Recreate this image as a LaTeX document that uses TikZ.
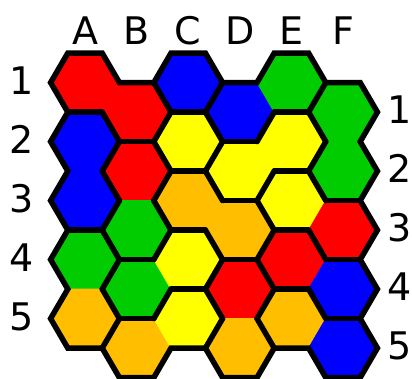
\documentclass[tikz,border=0pt]{standalone}
\usepackage{fontspec}
\setmainfont{DejaVu Sans}
\usetikzlibrary{calc}
\definecolor{hred}{RGB}{255,0,0}
\definecolor{hblue}{RGB}{0,0,255}
\definecolor{hgreen}{RGB}{0,204,0}
\definecolor{hyellow}{RGB}{255,255,0}
\definecolor{horange}{RGB}{255,191,0}
\begin{document}
\begin{tikzpicture}[x=1pt,y=-1pt,
  edge/.style={line width=5.5pt,line cap=round,draw=black},
  rim/.style={line width=5.5pt,line join=miter,draw=black},
  lab/.style={font=\fontsize{38}{40}\selectfont,inner sep=0pt,anchor=base}]
\useasboundingbox (0,0) rectangle (412,379);
\def\R{34.4}\def\hw{17.2}\def\hh{29.5}
\foreach \c/\L in {0/A,1/B,2/C,3/D,4/E,5/F}{
  \foreach \r in {1,...,5}{
    \pgfmathsetmacro\xx{85+51.6*\c}
    \pgfmathsetmacro\yy{82.6+59*(\r-1)+29.5*mod(\c,2)}
    \coordinate (\L\r) at (\xx,\yy);
    \coordinate (\L\r-E) at ($(\L\r)+(\R,0)$);
    \coordinate (\L\r-W) at ($(\L\r)+(-\R,0)$);
    \coordinate (\L\r-NE) at ($(\L\r)+(\hw,-\hh)$);
    \coordinate (\L\r-NW) at ($(\L\r)+(-\hw,-\hh)$);
    \coordinate (\L\r-SE) at ($(\L\r)+(\hw,\hh)$);
    \coordinate (\L\r-SW) at ($(\L\r)+(-\hw,\hh)$);
  }
}
% cell fills
\foreach \n/\col in {A1/hred,A2/hblue,A3/hblue,A4/hgreen,A5/horange,
  B1/hred,B2/hred,B3/hgreen,B4/hgreen,B5/horange,
  C1/hblue,C2/hyellow,C3/horange,C4/hyellow,C5/hyellow,
  D1/hblue,D2/hyellow,D3/horange,D4/hred,D5/horange,
  E1/hgreen,E2/hyellow,E3/hyellow,E4/hred,E5/horange,
  F1/hgreen,F2/hgreen,F3/hred,F4/hblue,F5/hblue}{
  \filldraw[fill=\col,draw=\col,line width=0.8pt] (\n-E) -- (\n-NE) -- (\n-NW) -- (\n-W) -- (\n-SW) -- (\n-SE) -- cycle;
}
% horizontal borders (bottom edge of the named cell)
\foreach \n in {A1,A3,B1,B3,B4,C1,C2,C3,C4,D1,D2,D3,E1,E2,E3,E4,F2,F3,F4}{
  \draw[edge] (\n-SW) -- (\n-SE);
}
% upper-right borders
\foreach \n in {A2,A3,A4,A5,C2,C3,C4,C5,E2,E3,E4,E5,B1,B2,B3,D3,D4,D5}{
  \draw[edge] (\n-NE) -- (\n-E);
}
% lower-right borders
\foreach \n in {A2,A3,A4,A5,C1,C2,C4,C5,E1,E2,B1,B2,B3,B4,D1,D2,D3,D4}{
  \draw[edge] (\n-E) -- (\n-SE);
}
% outer rim
\draw[rim] (A1-W) -- (A1-NW) -- (A1-NE) -- (A1-E) -- (B1-NE) -- (C1-W) -- (C1-NW) -- (C1-NE) -- (C1-E)
  -- (D1-NE) -- (E1-W) -- (E1-NW) -- (E1-NE) -- (E1-E) -- (F1-NE) -- (F1-E) -- (F1-SE) -- (F2-E)
  -- (F2-SE) -- (F3-E) -- (F3-SE) -- (F4-E) -- (F4-SE) -- (F5-E) -- (F5-SE) -- (F5-SW) -- (F5-W)
  -- (E5-SW) -- (D5-SE) -- (D5-SW) -- (D5-W) -- (C5-SW) -- (B5-SE) -- (B5-SW) -- (B5-W)
  -- (A5-SW) -- (A5-W) -- (A4-SW) -- (A4-W) -- (A3-SW) -- (A3-W) -- (A2-SW) -- (A2-W) -- (A1-SW) -- cycle;
% column labels
\node[lab] (tA) at (85,45) {A};
\node[lab] (tB) at (136.6,45) {B};
\node[lab] (tC) at (188.2,45) {C};
\node[lab] (tD) at (239.8,45) {D};
\node[lab] (tE) at (291.4,45) {E};
\node[lab] (tF) at (343,45) {F};
% row labels
\foreach \r in {1,...,5}{
  \node[lab] (l\r) at ($(A\r)+(-63,11.6)$) {\r};
  \node[lab] (r\r) at ($(F\r)+(57,11.6)$) {\r};
}
\end{tikzpicture}
\end{document}
